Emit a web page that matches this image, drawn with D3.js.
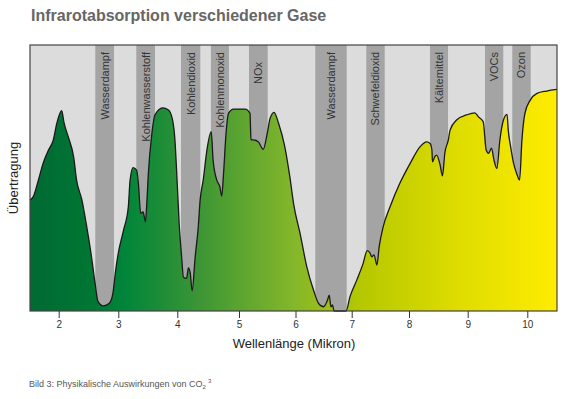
<!DOCTYPE html>
<html>
<head>
<meta charset="utf-8">
<script src="https://cdn.jsdelivr.net/npm/d3@7"></script>
<style>
  body { margin: 0; background: #fff; }
  text { font-family: "Liberation Sans", Arial, Helvetica, sans-serif; }
</style>
</head>
<body>
<div id="chart"></div>
<script>
// Wellenlaenge (Mikron) und Uebertragung (%) entlang der Kurve
const wave = [1.52, 1.575, 1.66, 1.74, 1.83, 1.91, 1.97, 2.05, 2.09, 2.16, 2.25, 2.30, 2.39, 2.47, 2.55, 2.61, 2.66, 2.75, 2.85, 2.91, 2.95, 3.0,
  3.09, 3.17, 3.20, 3.25, 3.31, 3.34, 3.38, 3.42, 3.46, 3.48, 3.51, 3.57, 3.62, 3.75, 3.85, 3.92, 3.96, 3.99,
  4.03, 4.07, 4.10, 4.15, 4.18, 4.21, 4.24, 4.29, 4.34, 4.37, 4.42, 4.48, 4.55, 4.58, 4.64, 4.69, 4.72, 4.75, 4.79, 4.83, 4.91,
  5.11, 5.195, 5.204, 5.212, 5.25, 5.34, 5.43, 5.50, 5.55, 5.62, 5.70, 5.81, 5.90, 5.97,
  6.08, 6.20, 6.32, 6.41, 6.50, 6.57, 6.60, 6.63, 6.66, 6.685, 6.90, 6.97,
  7.09, 7.20, 7.27, 7.32, 7.35, 7.39, 7.44, 7.48, 7.55, 7.67, 7.84,
  8.02, 8.19, 8.30, 8.36, 8.39, 8.40, 8.44, 8.47, 8.53, 8.57, 8.61, 8.67, 8.70, 8.81, 8.98,
  9.12, 9.18, 9.26, 9.31, 9.35, 9.40, 9.44, 9.49, 9.54, 9.60, 9.66, 9.68, 9.72, 9.77, 9.82, 9.87, 9.91, 9.96,
  10.05, 10.16, 10.32, 10.49]
const transmission = [41.7, 43.0, 49.2, 55.6, 60.5, 64.3, 70.7, 75.3, 70.7, 65.5, 58.0, 49.2, 41.7, 31.7, 20.4, 10.5, 3.5, 1.9, 2.9, 6.7, 14.3, 21.8,
  30.5, 39.2, 49.2, 53.9, 53.0, 48.1, 36.7, 37.3, 33.6, 39.2, 51.9, 66.9, 73.7, 76.4, 75.6, 71.8, 64.3, 51.9,
  33.1, 20.4, 12.7, 12.3, 16.2, 14.3, 7.6, 20.4, 31.7, 41.7, 49.2, 60.5, 67.4, 56.8, 49.2, 46.7, 43.2, 51.9, 66.8, 74.3, 75.9,
  75.9, 74.3, 68.8, 64.3, 64.3, 63.6, 60.8, 66.8, 72.4, 74.7, 70.6, 61.8, 50.4, 39.8,
  29.3, 16.7, 7.9, 2.9, 1.6, 4.1, 6.0, 1.6, 2.3, 0, 0, 5.4,
  11.7, 17.9, 22.7, 21.8, 20.4, 21.1, 17.3, 24.2, 31.7, 39.2, 48.0,
  55.5, 61.8, 63.6, 63.0, 60.5, 56.1, 58.0, 58.6, 54.9, 50.8, 59.3, 64.3, 68.0, 71.8, 73.7,
  74.5, 73.0, 71.2, 60.5, 59.3, 61.2, 56.8, 53.6, 64.3, 71.8, 73.9, 68.0, 61.8, 55.5, 51.8, 49.2, 64.3, 74.3,
  79.3, 81.8, 82.7, 83.3]

// Absorptionsbanden der Gase
const gases = ["Wasserdampf", "Kohlenwasserstoff", "Kohlendioxid", "Kohlenmonoxid", "NOx",
  "Wasserdampf", "Schwefeldioxid", "Kältemittel", "VOCs", "Ozon"]
const bandStart = [2.614, 3.305, 4.06, 4.545, 5.177, 6.352, 7.255, 8.358, 9.29, 9.748]
const bandEnd = [2.928, 3.622, 4.373, 4.837, 5.508, 6.911, 7.576, 8.665, 9.597, 10.056]

const xTicks = [2, 3, 4, 5, 6, 7, 8, 9, 10]

const width = 567, height = 399
const plot = { left: 30, right: 557, top: 45, bottom: 311 }

const svg = d3.select("#chart").append("svg")
  .attr("width", width)
  .attr("height", height)

// the original axis is not quite evenly spaced, so one stop per tick
const x = d3.scaleLinear()
  .domain([1.52, 2, 3, 4, 5, 6, 7, 8, 9, 10, 10.49])
  .range([plot.left, 58.7, 118.3, 177.3, 239, 295.5, 351.7, 409, 467.7, 527.3, plot.right])
const y = d3.scaleLinear()
  .domain([0, 100])
  .range([plot.bottom, plot.top])

const data = wave.map((w, i) => ({ w: w, t: transmission[i] }))

// gradient fill for the curve
const grad = svg.append("defs").append("linearGradient")
  .attr("id", "fillGrad")
  .attr("gradientUnits", "userSpaceOnUse")
  .attr("x1", plot.left).attr("x2", plot.right)
  .attr("y1", 0).attr("y2", 0)
const stops = [[0, "#006a33"], [0.12, "#007733"], [0.18, "#00853a"], [0.32, "#3c9535"],
  [0.5, "#84b72a"], [0.63, "#b6c800"], [0.8, "#dcdb00"], [1, "#ffec00"]]
grad.selectAll("stop").data(stops).join("stop")
  .attr("offset", d => d[0])
  .attr("stop-color", d => d[1])

// title
svg.append("text")
  .attr("x", 31).attr("y", 21)
  .attr("font-size", 16)
  .attr("font-weight", "bold")
  .attr("fill", "#666")
  .text("Infrarotabsorption verschiedener Gase")

// background
svg.append("rect")
  .attr("x", plot.left).attr("y", plot.top)
  .attr("width", plot.right - plot.left)
  .attr("height", plot.bottom - plot.top)
  .attr("fill", "#dcdcdc")

// bands
svg.selectAll(".band").data(gases).join("rect")
  .attr("class", "band")
  .attr("x", (d, i) => x(bandStart[i]))
  .attr("y", plot.top)
  .attr("width", (d, i) => x(bandEnd[i]) - x(bandStart[i]))
  .attr("height", plot.bottom - plot.top)
  .attr("fill", "#a4a4a4")

svg.selectAll(".bandLabel").data(gases).join("text")
  .attr("class", "bandLabel")
  .attr("transform", (d, i) => {
    const cx = (x(bandStart[i]) + x(bandEnd[i])) / 2
    const top = d == "NOx" ? 62 : 52
    return `translate(${cx},${top}) rotate(-90)`
  })
  .attr("dy", "0.35em")
  .attr("text-anchor", "end")
  .attr("font-size", 11)
  .attr("fill", "#333")
  .text(d => d)

// curve
const area = d3.area()
  .x(d => x(d.w))
  .y0(plot.bottom)
  .y1(d => y(d.t))
  .curve(d3.curveMonotoneX)
const line = d3.line()
  .x(d => x(d.w))
  .y(d => y(d.t))
  .curve(d3.curveMonotoneX)

svg.append("path")
  .datum(data)
  .attr("d", area)
  .attr("fill", "url(#fillGrad)")
svg.append("path")
  .datum(data)
  .attr("d", line)
  .attr("fill", "none")
  .attr("stroke", "#1a1a1a")
  .attr("stroke-width", 1.3)
  .attr("stroke-linejoin", "round")

// frame
svg.append("rect")
  .attr("x", plot.left).attr("y", plot.top)
  .attr("width", plot.right - plot.left)
  .attr("height", plot.bottom - plot.top)
  .attr("fill", "none")
  .attr("stroke", "#444")
  .attr("stroke-width", 1.2)

// x axis
const xAxis = svg.append("g")
  .attr("transform", `translate(0,${plot.bottom})`)
  .call(d3.axisBottom(x).tickValues(xTicks).tickSize(7).tickPadding(3).tickFormat(d3.format("d")))
xAxis.select(".domain").remove()
xAxis.selectAll("line").attr("stroke", "#333")
xAxis.selectAll("text")
  .attr("font-size", 10)
  .attr("fill", "#333")
  .style("font-family", '"Liberation Sans", Arial, sans-serif')

svg.append("text")
  .attr("x", 294).attr("y", 348)
  .attr("text-anchor", "middle")
  .attr("font-size", 13)
  .attr("fill", "#222")
  .text("Wellenlänge (Mikron)")

svg.append("text")
  .attr("transform", "translate(18,178) rotate(-90)")
  .attr("text-anchor", "middle")
  .attr("font-size", 13)
  .attr("fill", "#222")
  .text("Übertragung")

// caption
const cap = svg.append("text")
  .attr("x", 29).attr("y", 387)
  .attr("font-size", 9)
  .attr("fill", "#555")
cap.append("tspan").text("Bild 3: Physikalische Auswirkungen von CO")
cap.append("tspan").attr("font-size", 6).attr("dy", 2).text("2")
cap.append("tspan").attr("font-size", 6).attr("dy", -6).attr("dx", 2).text("3")
</script>
</body>
</html>
